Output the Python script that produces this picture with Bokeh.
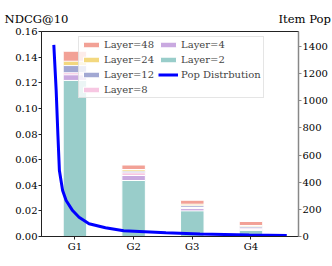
import numpy as np
from bokeh.plotting import figure
from bokeh.models import (Range1d, LinearAxis, FixedTicker, Legend, LegendItem,
                          Title, NumeralTickFormatter)
from bokeh.embed import file_html
from bokeh.resources import INLINE

groups = ["G1", "G2", "G3", "G4"]
layer_names = ["Layer=48", "Layer=24", "Layer=12", "Layer=8", "Layer=4", "Layer=2"]
ndcg_l48 = [0.1446, 0.0558, 0.0283, 0.0117]
ndcg_l24 = [0.1368, 0.0523, 0.0252, 0.0086]
ndcg_l12 = [0.1334, 0.0510, 0.0240, 0.0076]
ndcg_l8 = [0.1278, 0.0497, 0.0226, 0.0065]
ndcg_l4 = [0.1262, 0.0476, 0.0218, 0.0055]
ndcg_l2 = [0.1218, 0.0437, 0.0200, 0.0047]
layer_colors = ["#F2A196", "#F3D87F", "#A2A8D3", "#F7C7E2", "#C9A9E0", "#99CDCA"]

pop_x = [-0.36, -0.32, -0.29, -0.265, -0.21, -0.15, -0.04, 0.07, 0.24, 0.52, 0.83, 1.55, 2.13, 2.97, 3.61]
pop_y = [1412, 1076, 744, 486, 339, 265, 191, 142, 94, 64, 42, 27, 18, 11, 7]

left_ticks = [0.0, 0.02, 0.04, 0.06, 0.08, 0.10, 0.12, 0.14, 0.16]
right_ticks = [0, 200, 400, 600, 800, 1000, 1200, 1400]
left_label = "NDCG@10"
right_label = "Item Pop"

FONT = "'DejaVu Serif', serif"
xpos = list(range(len(groups)))

p = figure(width=332, height=266, output_backend="svg", toolbar_location=None,
           x_range=Range1d(-0.57, 3.81), y_range=Range1d(0, 0.16),
           min_border_left=41, min_border_right=34, min_border_top=31, min_border_bottom=30)
p.extra_y_ranges = {"pop": Range1d(0, 1510)}
p.grid.visible = False
p.outline_line_color = "#222222"
p.outline_line_width = 1
p.background_fill_color = "white"
p.border_fill_color = "white"

series = [ndcg_l48, ndcg_l24, ndcg_l12, ndcg_l8, ndcg_l4, ndcg_l2]
bar_renderers = []
for vals, col in zip(series, layer_colors):
    r = p.vbar(x=xpos, top=vals, bottom=0, width=0.4, fill_color=col,
               line_color="white", line_width=1)
    bar_renderers.append(r)

pop_r = p.line(pop_x, pop_y, y_range_name="pop", line_color="#0000FF", line_width=3)

# axes
for ax in (p.xaxis[0], p.yaxis[0]):
    ax.major_tick_out = 3
    ax.major_tick_in = 0
    ax.minor_tick_out = 0
    ax.minor_tick_in = 0
    ax.major_label_standoff = 1
    ax.major_label_text_font = FONT
    ax.major_label_text_font_size = "10px"
    ax.major_label_text_color = "black"
    ax.axis_line_color = "#222222"
    ax.major_tick_line_color = "#222222"

p.xaxis[0].ticker = FixedTicker(ticks=xpos)
p.xaxis[0].major_label_overrides = {i: g for i, g in zip(xpos, groups)}
p.yaxis[0].ticker = FixedTicker(ticks=left_ticks)
p.yaxis[0].formatter = NumeralTickFormatter(format="0.00")

rax = LinearAxis(y_range_name="pop", ticker=FixedTicker(ticks=right_ticks))
rax.major_tick_out = 3
rax.major_tick_in = 0
rax.minor_tick_out = 0
rax.minor_tick_in = 0
rax.major_label_standoff = 1
rax.major_label_text_font = FONT
rax.major_label_text_font_size = "10px"
rax.major_label_text_color = "black"
rax.axis_line_color = "#888888"
rax.axis_line_width = 1.5
rax.major_tick_line_color = "#888888"
p.add_layout(rax, "right")

# legend
items = [LegendItem(label=n, renderers=[r]) for n, r in zip(layer_names, bar_renderers)]
items.append(LegendItem(label="Pop Distrbution", renderers=[pop_r]))
legend = Legend(items=items, location=(37, 138), orientation="vertical", nrows=4,
                label_text_font=FONT, label_text_font_size="10px",
                glyph_width=20, glyph_height=7, label_height=10, label_standoff=3,
                spacing=4, padding=2, margin=0,
                background_fill_color="white", background_fill_alpha=0.8,
                border_line_color="#cccccc", border_line_width=1)
p.add_layout(legend)

# axis titles above the frame (one line: left title ... right title)
gap = "\u00a0" * 57
p.add_layout(Title(text=left_label + gap + right_label, align="left", offset=-37,
                   standoff=12, text_font=FONT, text_font_size="11.6px",
                   text_font_style="normal", text_color="black"), "above")

open("out.html", "w").write(file_html(p, INLINE))
